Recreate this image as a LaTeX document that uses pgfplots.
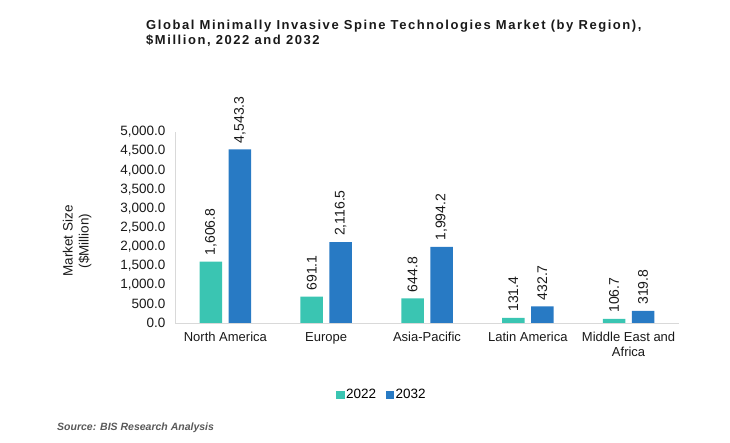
\documentclass[border=0pt]{standalone}
\usepackage{pgfplots}
\pgfplotsset{compat=1.18}
\usepackage{fontspec}
\setmainfont{Liberation Sans}
\newfontfamily\titlefont[LetterSpace=12]{Liberation Sans}
\definecolor{c22}{RGB}{58,197,178}
\definecolor{c32}{RGB}{40,122,196}
\definecolor{axgray}{RGB}{217,217,217}
\begin{document}
\begin{tikzpicture}
\useasboundingbox (0pt,0pt) rectangle (730pt,443pt);
\node[anchor=base west, inner sep=0pt, font=\titlefont\bfseries\fontsize{13}{15}\selectfont, text=black!90] at (146pt,413pt) {Global Minimally Invasive Spine Technologies Market (by Region),};
\node[anchor=base west, inner sep=0pt, font=\titlefont\bfseries\fontsize{13}{15}\selectfont, text=black!90] at (146pt,398.5pt) {\$Million, 2022 and 2032};
\node[anchor=base west, inner sep=0pt, font=\bfseries\itshape\fontsize{10.5}{12}\selectfont, text=black!65] at (57pt,12pt) {Source: BIS Research Analysis};
\begin{axis}[
  at={(175pt,120pt)}, anchor=south west,
  scale only axis, width=504pt, height=191pt,
  xmin=-0.5, xmax=4.5, ymin=0, ymax=5000,
  ybar=6.5pt, bar width=22.5pt,
  axis x line*=bottom, axis y line*=left,
  axis line style={draw=axgray, line width=0.9pt, -},
  major tick length=0pt,
  xtick={0,1,2,3,4},
  xticklabels={North America, Europe, Asia-Pacific, Latin America, {Middle East and\\Africa}},
  xticklabel style={align=center, font=\fontsize{13}{15}\selectfont, text=black!90, yshift=-6pt},
  ytick={0,500,...,5000},
  scaled y ticks=false,
  yticklabel style={font=\fontsize{13.5}{15}\selectfont, text=black!90, xshift=-6pt},
  /pgf/number format/fixed,
  /pgf/number format/fixed zerofill,
  /pgf/number format/precision=1,
  /pgf/number format/1000 sep={,},
  /pgf/number format/assume math mode=true,
  ylabel={Market Size\\(\$Million)},
  ylabel style={at={(axis description cs:-0.194,0.43)}, anchor=center, align=center, font=\fontsize{13.5}{16}\selectfont, text=black!90},
  nodes near coords,
  nodes near coords style={rotate=90, anchor=west, inner ysep=0pt, inner xsep=6pt, font=\fontsize{14}{16}\selectfont, text=black!90},
  clip=false,
  legend style={at={(axis description cs:0.41,-0.377)}, anchor=center, draw=none, fill=none, legend columns=2, font=\fontsize{13.5}{15}\selectfont, /tikz/every even column/.append style={column sep=8pt}, nodes={inner xsep=1.5pt}},
  legend image code/.code={\fill[#1] (0pt,-4pt) rectangle (8.5pt,4.5pt);},
]
\addplot[fill=c22, draw=none] coordinates {(0,1606.8) (1,691.1) (2,644.8) (3,131.4) (4,106.7)};
\addplot[fill=c32, draw=none] coordinates {(0,4543.3) (1,2116.5) (2,1994.2) (3,432.7) (4,319.8)};
\legend{2022,2032}
\end{axis}
\end{tikzpicture}
\end{document}
